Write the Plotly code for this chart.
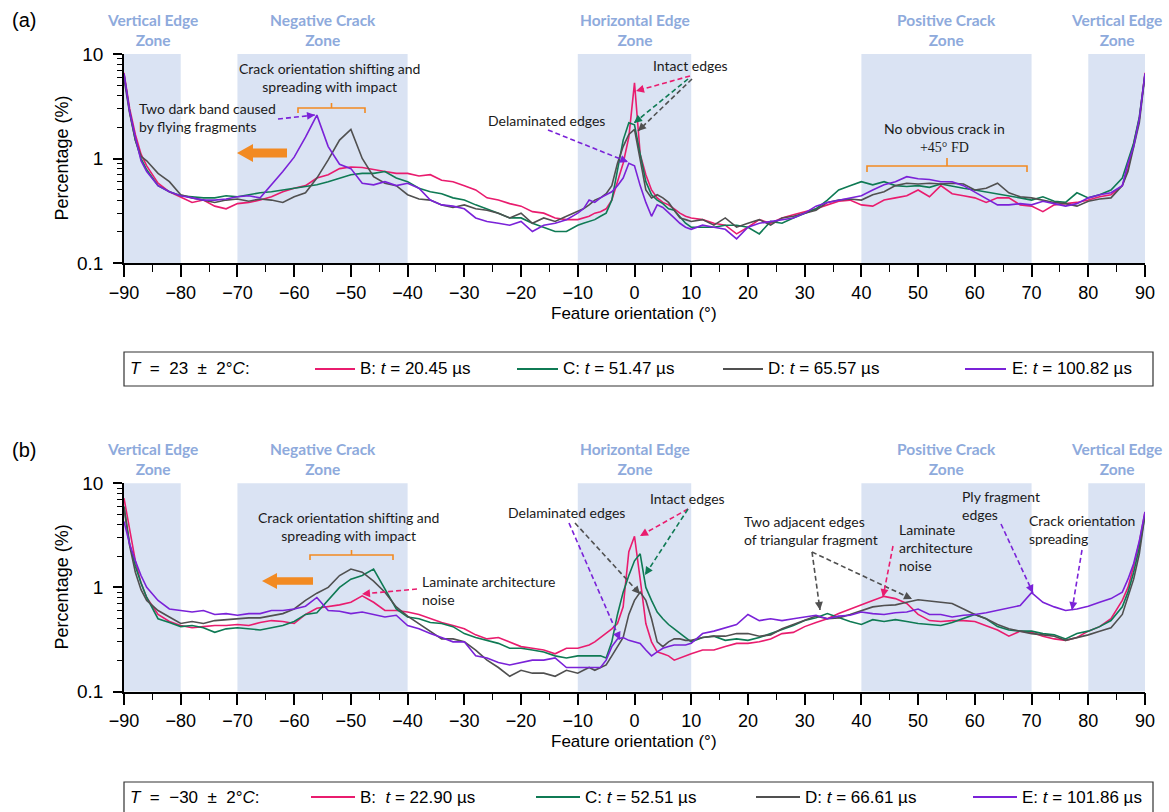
import math
import plotly.graph_objects as go

W, H = 1169, 812

# ---------------- data ----------------
X = (list(range(-90, -86)) + list(range(-86, -10, 2)) + list(range(-10, 11))
     + list(range(12, 87, 2)) + list(range(87, 91)))

ZONES = [(-90, -80), (-70, -40), (-10, 10), (40, 70), (80, 90)]
ZONE_NAMES = ["Vertical Edge<br>Zone", "Negative Crack<br>Zone", "Horizontal Edge<br>Zone",
              "Positive Crack<br>Zone", "Vertical Edge<br>Zone"]
ZONE_CENTERS = [-85, -55, 0, 55, 85]

SERIES = ["B", "C", "D", "E"]
COLORS = ["#e91c6e", "#0f7a54", "#505050", "#7a22d8"]

# panel (a)  T = 23 +/- 2 C
A_B = [6.6, 3.0, 1.7, 1.1,
       0.85, 0.58, 0.48, 0.43, 0.38, 0.40, 0.35, 0.33, 0.37, 0.38,
       0.40, 0.43, 0.48, 0.52, 0.55, 0.65, 0.70, 0.80, 0.83, 0.82,
       0.78, 0.75, 0.72, 0.72, 0.68, 0.70, 0.62, 0.60, 0.55, 0.50,
       0.42, 0.40, 0.37, 0.35, 0.31, 0.30, 0.27, 0.26,
       0.26, 0.27, 0.28, 0.30, 0.31, 0.33, 0.40, 0.60, 0.90, 1.6,
       5.3,
       1.1, 0.70, 0.50, 0.42, 0.38, 0.36, 0.33, 0.30, 0.28, 0.27,
       0.26, 0.24, 0.23, 0.19, 0.22, 0.26, 0.24, 0.27, 0.29, 0.31,
       0.33, 0.36, 0.39, 0.40, 0.36, 0.35, 0.40, 0.42, 0.44, 0.50,
       0.43, 0.55, 0.46, 0.44, 0.42, 0.38, 0.42, 0.42, 0.36, 0.35,
       0.31, 0.36, 0.37, 0.38, 0.40, 0.43, 0.45, 0.55,
       0.8, 1.4, 2.4, 6.6]
A_C = [6.4, 2.8, 1.5, 1.0,
       0.78, 0.55, 0.48, 0.44, 0.43, 0.42, 0.42, 0.44, 0.43, 0.45,
       0.47, 0.48, 0.50, 0.52, 0.54, 0.56, 0.60, 0.65, 0.70, 0.72,
       0.72, 0.75, 0.65, 0.60, 0.52, 0.48, 0.46, 0.42, 0.40, 0.36,
       0.33, 0.30, 0.27, 0.27, 0.24, 0.22, 0.20, 0.20,
       0.23, 0.24, 0.25, 0.26, 0.28, 0.30, 0.40, 0.80, 1.50, 2.20,
       2.1,
       1.1, 0.60, 0.45, 0.40, 0.37, 0.33, 0.32, 0.28, 0.24, 0.22,
       0.22, 0.22, 0.23, 0.23, 0.22, 0.19, 0.25, 0.24, 0.27, 0.30,
       0.33, 0.40, 0.50, 0.55, 0.60, 0.56, 0.60, 0.55, 0.54, 0.55,
       0.53, 0.57, 0.54, 0.52, 0.50, 0.48, 0.46, 0.44, 0.42, 0.40,
       0.43, 0.39, 0.38, 0.47, 0.42, 0.45, 0.50, 0.65,
       0.95, 1.4, 2.5, 6.4]
A_D = [5.8, 2.7, 1.5, 1.05,
       0.95, 0.72, 0.60, 0.45, 0.42, 0.40, 0.38, 0.40, 0.41, 0.39,
       0.41, 0.40, 0.38, 0.43, 0.47, 0.65, 0.97, 1.5, 1.9, 1.0,
       0.67, 0.58, 0.55, 0.45, 0.41, 0.40, 0.36, 0.34, 0.36, 0.33,
       0.32, 0.30, 0.27, 0.30, 0.24, 0.27, 0.25, 0.28,
       0.31, 0.33, 0.36, 0.40, 0.42, 0.46, 0.55, 0.90, 1.30, 1.70,
       1.9,
       0.95, 0.50, 0.42, 0.45, 0.42, 0.38, 0.32, 0.27, 0.26, 0.25,
       0.26, 0.23, 0.27, 0.22, 0.24, 0.26, 0.23, 0.27, 0.28, 0.30,
       0.32, 0.38, 0.40, 0.41, 0.40, 0.45, 0.48, 0.55, 0.58, 0.57,
       0.58, 0.57, 0.58, 0.57, 0.50, 0.52, 0.58, 0.47, 0.43, 0.42,
       0.40, 0.38, 0.37, 0.35, 0.39, 0.41, 0.42, 0.55,
       0.75, 1.3, 2.2, 6.3]
A_E = [6.5, 2.8, 1.6, 0.95,
       0.75, 0.55, 0.48, 0.44, 0.42, 0.40, 0.40, 0.41, 0.43, 0.44,
       0.42, 0.56, 0.75, 1.03, 1.6, 2.6, 1.3, 0.88, 0.80, 0.58,
       0.56, 0.60, 0.55, 0.58, 0.52, 0.40, 0.36, 0.35, 0.33, 0.27,
       0.25, 0.24, 0.23, 0.25, 0.20, 0.23, 0.24, 0.26,
       0.30, 0.33, 0.40, 0.38, 0.42, 0.45, 0.48, 0.55, 0.65, 0.90,
       0.85,
       0.55, 0.38, 0.28, 0.36, 0.34, 0.30, 0.27, 0.24, 0.22, 0.21,
       0.23, 0.22, 0.21, 0.17, 0.22, 0.24, 0.25, 0.26, 0.27, 0.30,
       0.35, 0.38, 0.40, 0.42, 0.44, 0.50, 0.56, 0.60, 0.67, 0.64,
       0.63, 0.60, 0.60, 0.55, 0.48, 0.42, 0.36, 0.36, 0.37, 0.36,
       0.39, 0.37, 0.35, 0.37, 0.42, 0.45, 0.47, 0.55,
       0.9, 1.3, 2.4, 6.5]

# panel (b)  T = -30 +/- 2 C
B_B = [7.2, 3.5, 1.8, 1.1,
       0.80, 0.55, 0.47, 0.43, 0.41, 0.42, 0.43, 0.43, 0.44, 0.43,
       0.46, 0.48, 0.47, 0.45, 0.55, 0.63, 0.65, 0.68, 0.72, 0.83,
       0.72, 0.60, 0.60, 0.58, 0.55, 0.50, 0.46, 0.43, 0.40, 0.35,
       0.32, 0.33, 0.30, 0.27, 0.26, 0.25, 0.23, 0.26,
       0.26, 0.27, 0.28, 0.30, 0.33, 0.36, 0.40, 0.45, 0.65, 2.2,
       3.1,
       1.2, 0.45, 0.30, 0.24, 0.23, 0.22, 0.20, 0.21, 0.22, 0.23,
       0.25, 0.25, 0.27, 0.29, 0.29, 0.30, 0.32, 0.36, 0.37, 0.42,
       0.46, 0.50, 0.56, 0.62, 0.68, 0.75, 0.82, 0.78, 0.70, 0.55,
       0.48, 0.47, 0.48, 0.48, 0.47, 0.43, 0.39, 0.34, 0.38, 0.37,
       0.34, 0.32, 0.31, 0.33, 0.38, 0.42, 0.50, 0.75,
       1.0, 1.6, 2.7, 5.3]
B_C = [6.0, 2.6, 1.6, 1.1,
       0.80, 0.50, 0.46, 0.42, 0.43, 0.41, 0.37, 0.40, 0.41, 0.40,
       0.39, 0.41, 0.43, 0.47, 0.55, 0.57, 0.75, 1.0, 1.2, 1.3,
       1.5, 0.95, 0.62, 0.52, 0.50, 0.46, 0.45, 0.42, 0.36, 0.33,
       0.31, 0.29, 0.26, 0.26, 0.25, 0.24, 0.22, 0.21,
       0.22, 0.22, 0.22, 0.22, 0.22, 0.21, 0.30, 0.55, 0.90, 1.3,
       1.8,
       2.1, 1.0, 0.75, 0.58, 0.50, 0.44, 0.40, 0.36, 0.33, 0.30,
       0.33, 0.34, 0.31, 0.32, 0.31, 0.33, 0.36, 0.39, 0.43, 0.48,
       0.51, 0.56, 0.51, 0.47, 0.44, 0.49, 0.47, 0.49, 0.47, 0.45,
       0.44, 0.43, 0.46, 0.50, 0.55, 0.50, 0.42, 0.39, 0.38, 0.38,
       0.36, 0.35, 0.32, 0.36, 0.38, 0.42, 0.48, 0.65,
       0.9, 1.4, 2.4, 5.0]
B_D = [5.8, 2.5, 1.4, 0.95,
       0.75, 0.60, 0.52, 0.45, 0.47, 0.45, 0.48, 0.49, 0.50, 0.51,
       0.51, 0.53, 0.56, 0.62, 0.75, 0.88, 1.0, 1.3, 1.5, 1.4,
       1.15, 0.90, 0.65, 0.53, 0.45, 0.38, 0.32, 0.32, 0.30, 0.25,
       0.20, 0.17, 0.14, 0.16, 0.15, 0.15, 0.14, 0.16,
       0.15, 0.16, 0.17, 0.16, 0.17, 0.18, 0.22, 0.27, 0.33, 0.55,
       0.75,
       0.90, 0.75, 0.50, 0.30, 0.27, 0.30, 0.32, 0.32, 0.31, 0.31,
       0.33, 0.34, 0.34, 0.36, 0.36, 0.34, 0.35, 0.40, 0.44, 0.48,
       0.53, 0.50, 0.51, 0.55, 0.60, 0.65, 0.67, 0.68, 0.72, 0.76,
       0.74, 0.72, 0.70, 0.62, 0.55, 0.50, 0.44, 0.40, 0.38, 0.36,
       0.35, 0.34, 0.31, 0.33, 0.35, 0.38, 0.41, 0.55,
       0.8, 1.2, 2.1, 5.0]
B_E = [4.3, 2.6, 1.8, 1.3,
       1.0, 0.75, 0.62, 0.60, 0.58, 0.60, 0.55, 0.56, 0.54, 0.56,
       0.56, 0.60, 0.60, 0.62, 0.66, 0.80, 0.60, 0.59, 0.56, 0.58,
       0.55, 0.52, 0.54, 0.43, 0.40, 0.36, 0.33, 0.30, 0.30, 0.22,
       0.21, 0.19, 0.18, 0.19, 0.20, 0.20, 0.21, 0.17,
       0.17, 0.17, 0.17, 0.17, 0.17, 0.20, 0.27, 0.32, 0.33, 0.31,
       0.30,
       0.29, 0.25, 0.22, 0.24, 0.26, 0.27, 0.28, 0.28, 0.28, 0.29,
       0.36, 0.38, 0.41, 0.44, 0.55, 0.48, 0.50, 0.48, 0.50, 0.52,
       0.54, 0.50, 0.53, 0.54, 0.58, 0.56, 0.55, 0.57, 0.58, 0.62,
       0.55, 0.55, 0.52, 0.54, 0.55, 0.57, 0.60, 0.63, 0.67, 0.89,
       0.72, 0.65, 0.60, 0.62, 0.66, 0.72, 0.78, 0.90,
       1.2, 1.7, 2.8, 5.3]

LEG_A_HEAD = "<i>T</i>  =  23  ±  2°<i>C</i>:"
LEG_A = ["B: <i>t</i> = 20.45 µs", "C: <i>t</i> = 51.47 µs",
         "D: <i>t</i> = 65.57 µs", "E: <i>t</i> = 100.82 µs"]
LEG_B_HEAD = "<i>T</i>  =  −30  ±  2°<i>C</i>:"
LEG_B = ["B:  <i>t</i> = 22.90 µs", "C: <i>t</i> = 52.51 µs",
         "D: <i>t</i> = 66.61 µs", "E: <i>t</i> = 101.86 µs"]

# ---------------- styling ----------------
ZONE_FILL = "#dae3f3"
ZONE_TXT = "#8eaadc"
ORANGE = "#f28a22"
AX_FONT = "Liberation Sans, Arial, sans-serif"
ANN_FONT = "Lato, Carlito, Calibri, sans-serif"
TXT = "#1a1a1a"


def px(x):
    return x / W


def py(y):
    return 1 - y / H


PLOT_L, PLOT_R = 124, 1145
PANELS = [dict(top=54, bot=263, xa="x", ya="y"),
          dict(top=483.3, bot=691.5, xa="x2", ya="y2")]

fig = go.Figure()
shapes, anns = [], []

panel_data = [[A_B, A_C, A_D, A_E], [B_B, B_C, B_D, B_E]]
for p, series in zip(PANELS, panel_data):
    for name, col, vals in zip(SERIES, COLORS, series):
        fig.add_trace(go.Scatter(x=X, y=vals, mode="lines", name=name,
                                 line=dict(color=col, width=1.6),
                                 xaxis=p["xa"], yaxis=p["ya"], showlegend=False,
                                 hoverinfo="skip"))
    for (z0, z1) in ZONES:
        shapes.append(dict(type="rect", xref=p["xa"], yref=p["ya"] + " domain",
                           x0=z0, x1=z1, y0=0, y1=1, fillcolor=ZONE_FILL,
                           line=dict(width=0), layer="below"))
    for zc, zn in zip(ZONE_CENTERS, ZONE_NAMES):
        anns.append(dict(xref=p["xa"], yref="paper", x=zc, y=py(p["top"] - 24),
                         text="<b>" + zn + "</b>", showarrow=False,
                         font=dict(family=ANN_FONT, size=15.5, color=ZONE_TXT),
                         xanchor="center", yanchor="middle"))
    # axis titles
    anns.append(dict(xref="paper", yref="paper", x=px(62), y=py((p["top"] + p["bot"]) / 2),
                     text="Percentage (%)", textangle=-90, showarrow=False,
                     font=dict(family=AX_FONT, size=18, color="black"),
                     xanchor="center", yanchor="middle"))
    anns.append(dict(xref="paper", yref="paper", x=px(634), y=py(p["bot"] + 50),
                     text="Feature orientation (°)", showarrow=False,
                     font=dict(family=AX_FONT, size=17, color="black"),
                     xanchor="center", yanchor="middle"))

# panel letters
for lab, yy in [("(a)", 20), ("(b)", 450)]:
    anns.append(dict(xref="paper", yref="paper", x=px(10), y=py(yy), text=lab,
                     showarrow=False, font=dict(family=AX_FONT, size=20, color="black"),
                     xanchor="left", yanchor="middle"))


def text(x, y, t, anchor="center", size=14):
    anns.append(dict(xref="paper", yref="paper", x=px(x), y=py(y), text=t,
                     showarrow=False, align=anchor if anchor != "center" else "center",
                     font=dict(family=ANN_FONT, size=size, color=TXT),
                     xanchor=anchor, yanchor="middle"))


def darrow(tail, tip, color):
    shapes.append(dict(type="line", xref="paper", yref="paper",
                       x0=px(tail[0]), y0=py(tail[1]), x1=px(tip[0]), y1=py(tip[1]),
                       line=dict(color=color, width=1.6, dash="5px,3px")))
    dx, dy = tip[0] - tail[0], tip[1] - tail[1]
    d = math.hypot(dx, dy)
    L = 8
    anns.append(dict(xref="paper", yref="paper", x=px(tip[0]), y=py(tip[1]), text="",
                     showarrow=True, arrowhead=2, arrowsize=1, arrowwidth=1.6,
                     arrowcolor=color, ax=-dx / d * L, ay=-dy / d * L))


def bracket(x0, x1, yline, yend, ytop):
    xm = (x0 + x1) / 2
    path = (f"M {px(x0)},{py(yend)} L {px(x0)},{py(yline)} L {px(x1)},{py(yline)} "
            f"L {px(x1)},{py(yend)} M {px(xm)},{py(yline)} L {px(xm)},{py(ytop)}")
    shapes.append(dict(type="path", xref="paper", yref="paper", path=path,
                       line=dict(color=ORANGE, width=1.6)))


def big_arrow(tipx, cy, headx, hh, bh, endx):
    pts = [(tipx, cy), (headx, cy - hh), (headx, cy - bh), (endx, cy - bh),
           (endx, cy + bh), (headx, cy + bh), (headx, cy + hh)]
    path = "M " + " L ".join(f"{px(a)},{py(b)}" for a, b in pts) + " Z"
    shapes.append(dict(type="path", xref="paper", yref="paper", path=path,
                       fillcolor=ORANGE, line=dict(width=0)))


PINK, GREEN, GRAY, PURPLE = COLORS

# ---- panel (a) annotations
text(330, 77, "Crack orientation shifting and<br>spreading with impact")
bracket(298, 365, 108, 113, 103)
text(137, 117.5, "Two dark band caused<br>by flying fragments", anchor="left")
darrow((278, 119), (315, 115), PURPLE)
big_arrow(237, 153, 253, 9, 4.5, 287)
text(546, 120, "Delaminated edges")
darrow((548, 130), (628, 162), PURPLE)
text(690, 65, "Intact edges")
darrow((690, 76), (636, 91), PINK)
darrow((688, 79), (634, 123), GREEN)
darrow((692, 79), (638, 131), GRAY)
text(944, 137.5, "No obvious crack in<br><span style='font-family:Liberation Serif'>+45° FD</span>")
bracket(867, 1027, 166, 172, 158)

# ---- panel (b) annotations
text(348, 526, "Crack orientation shifting and<br>spreading with impact")
bracket(310, 393, 555, 560, 550)
big_arrow(262, 581, 277, 8, 3.8, 313)
text(420, 590.5, "Laminate architecture<br>noise", anchor="left")
darrow((417, 589), (362, 594), PINK)
text(566, 512, "Delaminated edges")
darrow((569, 523), (620, 640), PURPLE)
darrow((575, 523), (640, 594), GRAY)
text(687, 498, "Intact edges")
darrow((688, 509), (640, 536), PINK)
darrow((688, 509), (645, 575), GREEN)
text(742, 530, "Two adjacent edges<br>of triangular fragment", anchor="left")
darrow((812, 552), (820, 610), GRAY)
darrow((812, 552), (912, 599), GRAY)
text(897, 547, "Laminate<br>architecture<br>noise", anchor="left")
darrow((893, 546), (883, 597), PINK)
text(960, 505.5, "Ply fragment<br>edges", anchor="left")
darrow((1001, 524), (1033, 593), PURPLE)
text(1027, 529.5, "Crack orientation<br>spreading", anchor="left")
darrow((1082, 550), (1072, 610), PURPLE)

# ---- legend boxes
LEG_LAYOUT = [
    dict(box=(124, 1153, 352, 386), cy=369, head_x=128,
         lines=[(315, 355), (517, 558), (723, 763), (965, 1006)],
         tx=[358, 561, 766, 1010], head=LEG_A_HEAD, labels=LEG_A),
    dict(box=(124, 1153, 782, 840), cy=797, head_x=128,
         lines=[(311, 355), (536, 580), (756, 800), (973, 1017)],
         tx=[358, 583, 803, 1020], head=LEG_B_HEAD, labels=LEG_B),
]
for lg in LEG_LAYOUT:
    x0, x1, y0, y1 = lg["box"]
    shapes.append(dict(type="rect", xref="paper", yref="paper", x0=px(x0), x1=px(x1),
                       y0=py(y1), y1=py(y0), line=dict(color="#333333", width=1.2),
                       fillcolor="rgba(0,0,0,0)"))
    anns.append(dict(xref="paper", yref="paper", x=px(lg["head_x"]), y=py(lg["cy"]),
                     text=lg["head"], showarrow=False, xanchor="left", yanchor="middle",
                     font=dict(family=AX_FONT, size=17, color="black")))
    for (l0, l1), tx, lab, col in zip(lg["lines"], lg["tx"], lg["labels"], COLORS):
        shapes.append(dict(type="line", xref="paper", yref="paper", x0=px(l0), x1=px(l1),
                           y0=py(lg["cy"]), y1=py(lg["cy"]), line=dict(color=col, width=2)))
        anns.append(dict(xref="paper", yref="paper", x=px(tx), y=py(lg["cy"]),
                         text=lab, showarrow=False, xanchor="left", yanchor="middle",
                         font=dict(family=AX_FONT, size=17, color="black")))

# ---------------- axes ----------------
xdom = [px(PLOT_L), px(PLOT_R)]
minor_y = [0.2, 0.3, 0.4, 0.5, 0.6, 0.7, 0.8, 0.9, 2, 3, 4, 5, 6, 7, 8, 9]


def xaxis(anchor):
    return dict(domain=xdom, anchor=anchor, range=[-90, 90], tick0=0, dtick=10,
                automargin=False,
                showgrid=False, zeroline=False, showline=True, linecolor="black",
                linewidth=1.8, ticks="outside", ticklen=12, tickwidth=1.5,
                tickcolor="black", tickfont=dict(family=AX_FONT, size=18, color="black"),
                minor=dict(dtick=5, tick0=0, ticks="outside", ticklen=7, tickwidth=1.3,
                           tickcolor="black", showgrid=False))


def yaxis(anchor, p):
    return dict(domain=[py(p["bot"]), py(p["top"])], anchor=anchor, type="log",
                automargin=False,
                range=[-1, 1], tickvals=[0.1, 1, 10], ticktext=["0.1", "1", "10"],
                showgrid=False, zeroline=False, showline=True, linecolor="black",
                linewidth=1.8, ticks="outside", ticklen=9, tickwidth=1.5,
                tickcolor="black", ticklabelstandoff=6,
                tickfont=dict(family=AX_FONT, size=19, color="black"),
                minor=dict(tickvals=minor_y, ticks="outside", ticklen=5, tickwidth=1.2,
                           tickcolor="black", showgrid=False))


fig.update_layout(
    width=W, height=H, autosize=False,
    margin=dict(l=0, r=0, t=0, b=0, pad=0, autoexpand=False),
    paper_bgcolor="white", plot_bgcolor="white",
    xaxis=xaxis("y"), yaxis=yaxis("x", PANELS[0]),
    xaxis2=xaxis("y2"), yaxis2=yaxis("x2", PANELS[1]),
    shapes=shapes, annotations=anns, showlegend=False,
)

fig.write_html("out.html", config={"responsive": False})
